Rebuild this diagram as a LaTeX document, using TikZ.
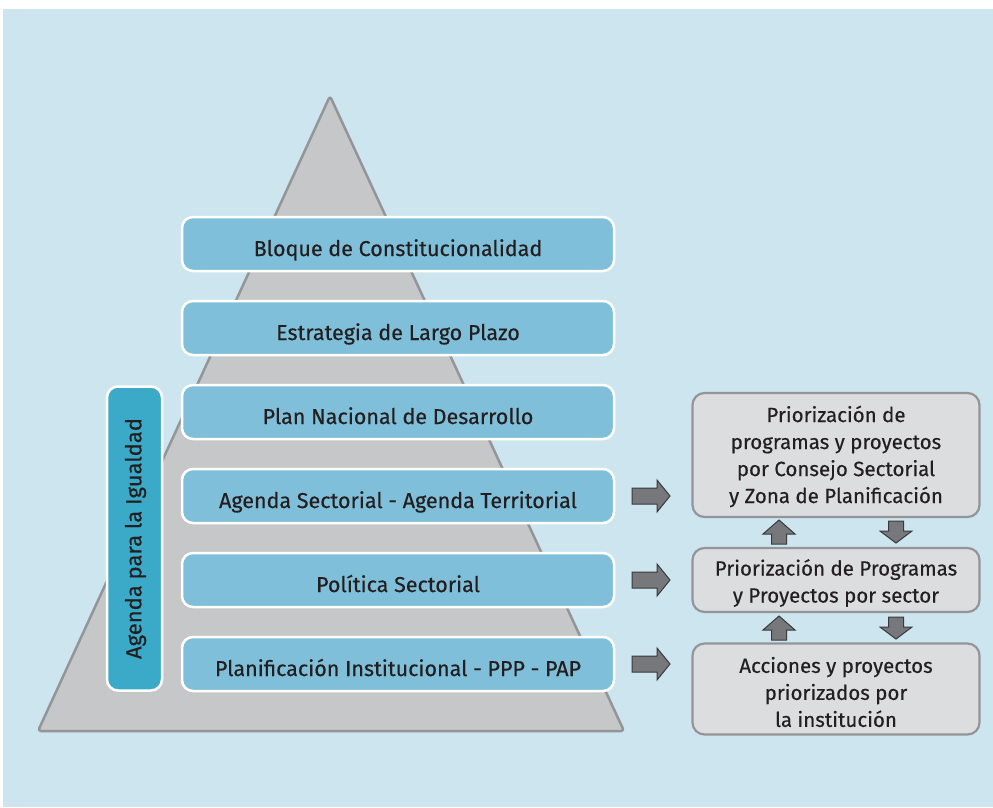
\documentclass[tikz,border=0pt]{standalone}
\usepackage{fontspec}
\setmainfont{Fira Sans}[FakeBold=0.4]
\definecolor{bgblue}{HTML}{CDE5EF}
\definecolor{pyrfill}{HTML}{C6C7C9}
\definecolor{pyrline}{HTML}{939598}
\definecolor{boxblue}{HTML}{7FBFD9}
\definecolor{darkblue}{HTML}{3BA9C8}
\definecolor{boxgray}{HTML}{DCDDDF}
\definecolor{arrfill}{HTML}{77787B}
\definecolor{arrline}{HTML}{3A3A3C}
\definecolor{txt}{HTML}{231F20}
\tikzset{
  levelbox/.style={draw=white, line width=2.5pt, fill=boxblue, rounded corners=11pt,
    minimum width=432pt, minimum height=54pt, inner sep=0pt, text=txt,
    text height=24pt, text depth=0pt,
    font=\fontsize{21.5}{27}\selectfont},
  eqbox/.style={draw=white, line width=2.5pt, fill=darkblue, rounded corners=11pt,
    minimum width=55pt, minimum height=304pt, inner sep=0pt},
  graybox/.style={draw=pyrline, line width=2.2pt, fill=boxgray, rounded corners=12pt,
    minimum width=287pt, inner sep=0pt},
  boxtext/.style={text=txt, align=center, inner sep=0pt,
    font=\fontsize{20.5}{27}\selectfont},
  blockarrow/.style={draw=arrline, line width=1pt, fill=arrfill, line join=miter}
}
\begin{document}
\begin{tikzpicture}[x=1pt, y=-1pt]
\useasboundingbox (0,0) rectangle (993,807);
\fill[white] (0,0) rectangle (993,807);
\fill[bgblue] (3,9) rectangle (993,807);
% pyramid
\draw[draw=pyrline, fill=pyrfill, line width=2.5pt, rounded corners=3pt, line join=round]
  (330,96) -- (624,731) -- (38,731) -- cycle;
% level boxes
\node[levelbox] (n1) at (398,244) {Bloque de Constitucionalidad};
\node[levelbox] (n2) at (398,328) {Estrategia de Largo Plazo};
\node[levelbox] (n3) at (398,412) {Plan Nacional de Desarrollo};
\node[levelbox] (n4) at (398,496) {Agenda Sectorial - Agenda Territorial};
\node[levelbox] (n5) at (398,580) {Política Sectorial};
\node[levelbox] (n6) at (398,664) {Planificación Institucional - PPP - PAP};
% vertical box
\node[eqbox] (eq) at (134.5,538.5) {};
\node[rotate=90, text=txt, font=\fontsize{22}{27}\selectfont, inner sep=0pt] (eqt) at ([xshift=1pt]eq.center) {Agenda para la Igualdad};
% right boxes
\node[graybox, minimum height=124pt] (r1) at (836,455) {};
\node[boxtext] (r1t) at ([yshift=-1.5pt]r1.center)
  {Priorización de\\programas y proyectos\\por Consejo Sectorial\\y Zona de Planificación};
\node[graybox, minimum height=64pt] (r2) at (836,580) {};
\node[boxtext] (r2t) at ([yshift=-3pt]r2.center)
  {Priorización de Programas\\y Proyectos por sector};
\node[graybox, minimum height=91pt] (r3) at (836,689) {};
\node[boxtext] (r3t) at ([yshift=-3pt]r3.center)
  {Acciones y proyectos\\priorizados por\\la institución};
% right arrows
\foreach \cy in {496,580,664}{
  \draw[blockarrow, shift={(651,\cy)}]
    (-19,-8) -- (6,-8) -- (6,-16) -- (19,0) -- (6,16) -- (6,8) -- (-19,8) -- cycle;
}
% up arrows
\foreach \cy in {532,628}{
  \draw[blockarrow, shift={(779,\cy)}]
    (-7.5,12) -- (-7.5,2) -- (-16,2) -- (0,-12) -- (16,2) -- (7.5,2) -- (7.5,12) -- cycle;
}
% down arrows
\foreach \cy in {532,628}{
  \draw[blockarrow, shift={(896,\cy)}]
    (-7.5,-11) -- (-7.5,-1) -- (-16,-1) -- (0,11) -- (16,-1) -- (7.5,-1) -- (7.5,-11) -- cycle;
}
\end{tikzpicture}
\end{document}
